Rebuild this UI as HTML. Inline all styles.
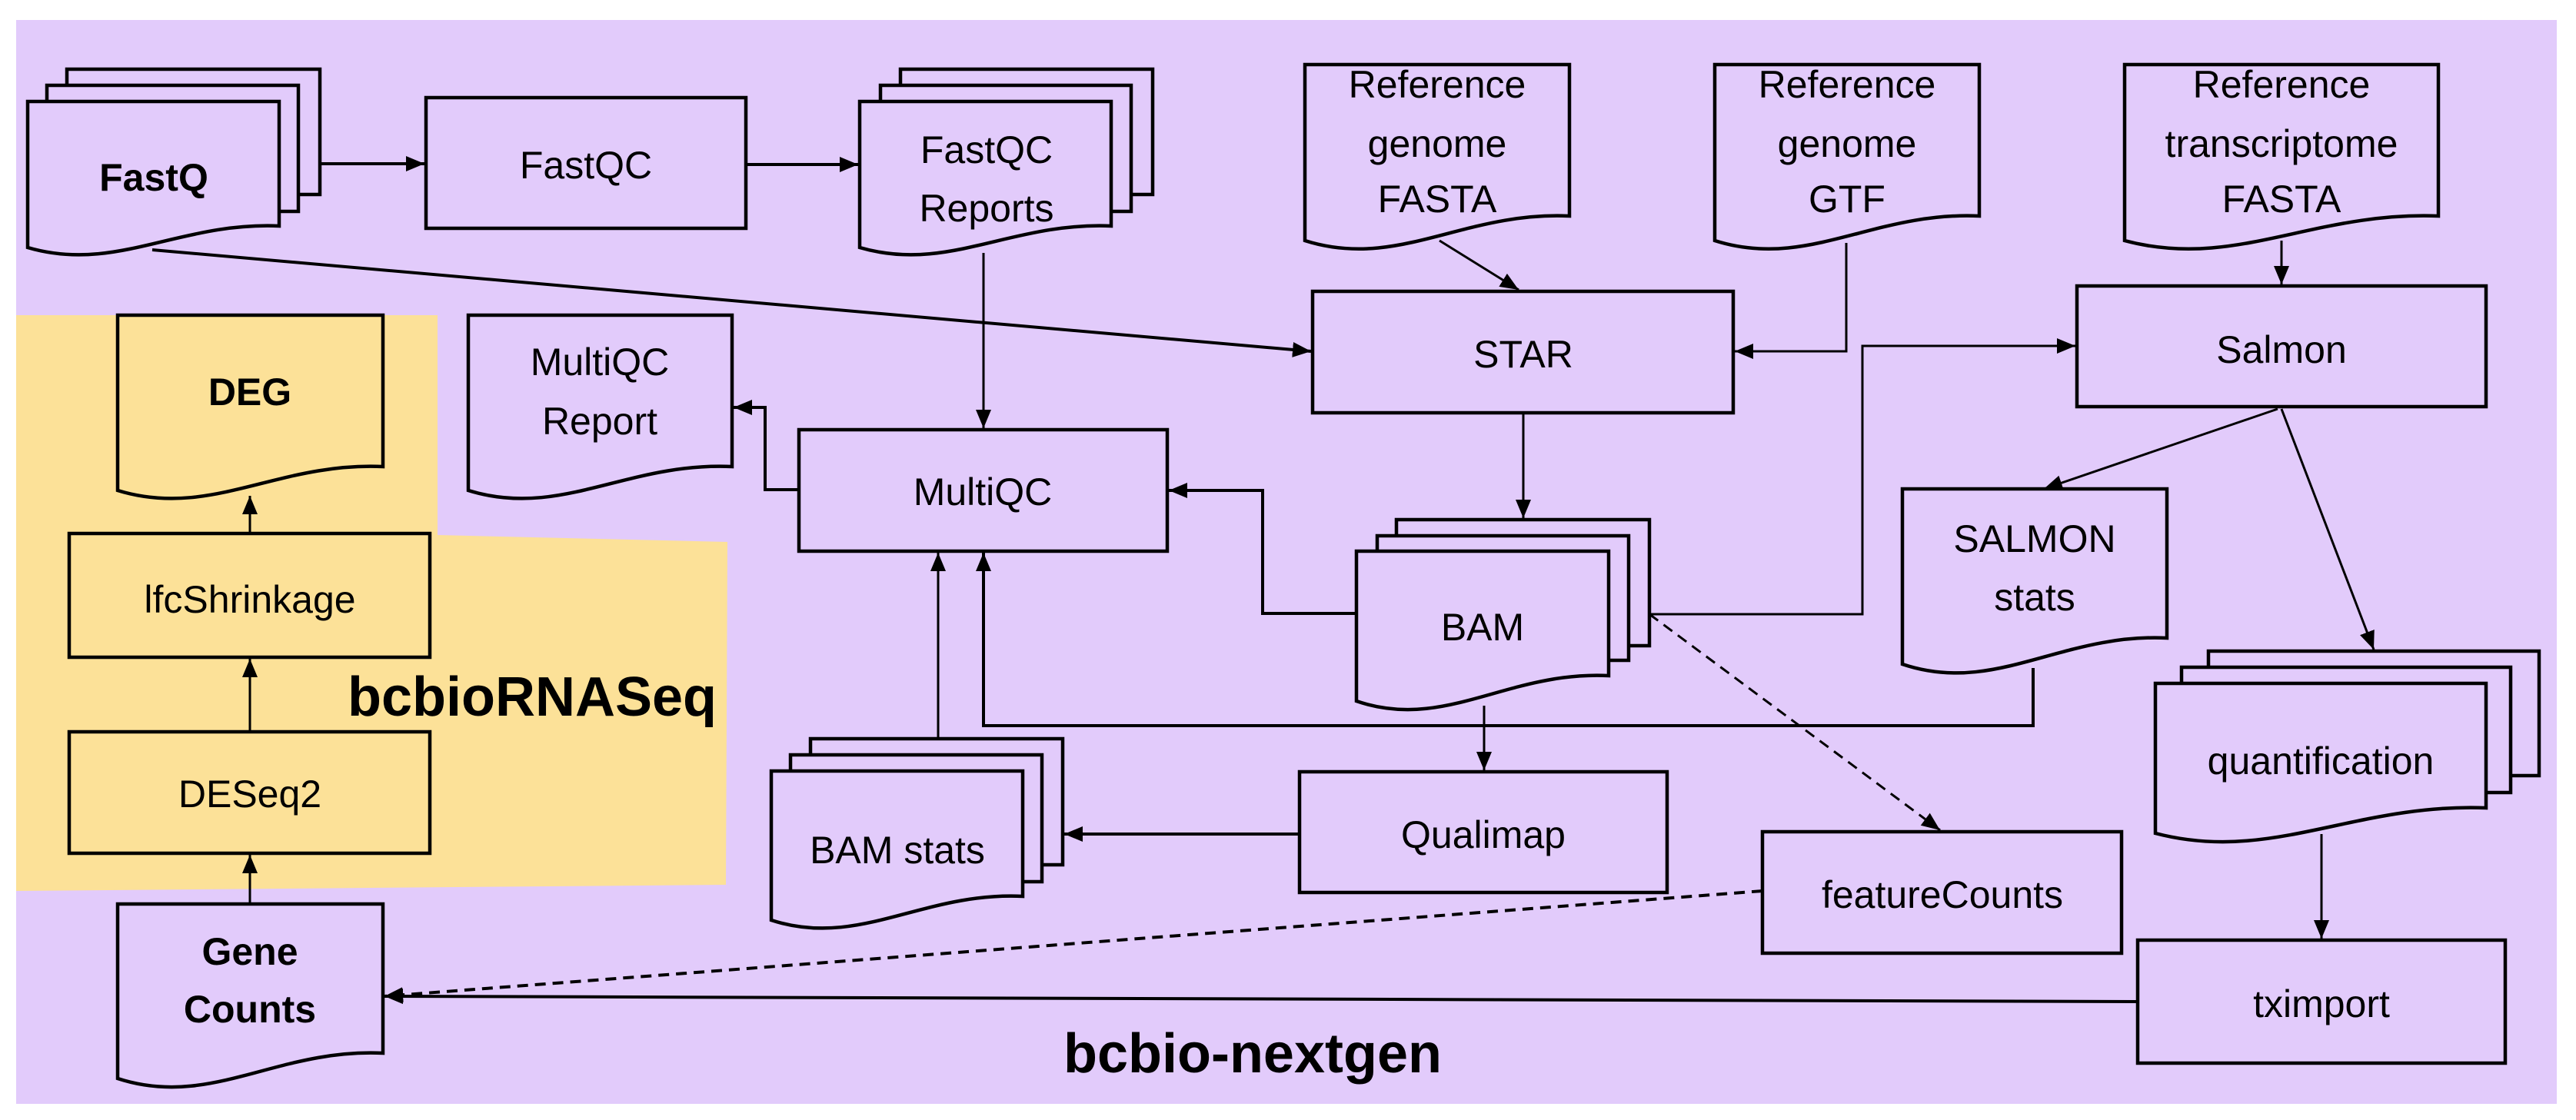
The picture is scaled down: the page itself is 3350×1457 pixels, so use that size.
<!DOCTYPE html>
<html><head><meta charset="utf-8"><style>
html,body{margin:0;padding:0;background:#fff;}
svg{display:block;}
text{font-family:"Liberation Sans",sans-serif;fill:#000;}
</style></head><body>
<svg width="3350" height="1457" viewBox="0 0 3350 1457" xmlns="http://www.w3.org/2000/svg">
<defs>
<marker id="a" markerUnits="userSpaceOnUse" markerWidth="30" markerHeight="24" refX="24" refY="12" orient="auto">
<path d="M0,2 L24,12 L0,22 Z" fill="#000"/>
</marker>
</defs>
<rect x="21" y="26" width="3304" height="1410" fill="#E2CBFB"/>
<polygon points="21,410 569,410 569,696 946,705 944,1151 21,1159" fill="#FCE198"/>

<g fill="none" stroke="#000" stroke-width="4">
<line x1="416" y1="213" x2="552" y2="213" marker-end="url(#a)"/>
<line x1="970" y1="214" x2="1116" y2="214" marker-end="url(#a)"/>
<line x1="1279" y1="329" x2="1279" y2="557" stroke-width="3" marker-end="url(#a)"/>
<line x1="198" y1="325" x2="1705" y2="457" marker-end="url(#a)"/>
<polyline points="1039,637 995,637 995,530 954,530" marker-end="url(#a)"/>
<line x1="325" y1="694" x2="325" y2="645" stroke-width="3" marker-end="url(#a)"/>
<line x1="325" y1="952" x2="325" y2="857" stroke-width="3" marker-end="url(#a)"/>
<line x1="325" y1="1176" x2="325" y2="1112" stroke-width="3" marker-end="url(#a)"/>
<line x1="1872" y1="313" x2="1975" y2="377" stroke-width="3" marker-end="url(#a)"/>
<polyline points="2401,316 2401,457 2256,457" stroke-width="3" marker-end="url(#a)"/>
<line x1="2967" y1="313" x2="2967" y2="370" stroke-width="3" marker-end="url(#a)"/>
<polyline points="2145,799 2422,799 2422,450 2699,450" stroke-width="3" marker-end="url(#a)"/>
<line x1="2962" y1="532" x2="2658" y2="636" stroke-width="3" marker-end="url(#a)"/>
<line x1="2967" y1="532" x2="3087" y2="845" stroke-width="3" marker-end="url(#a)"/>
<polyline points="2644,869 2644,944 1279,944 1279,719" marker-end="url(#a)"/>
<line x1="1220" y1="961" x2="1220" y2="719" stroke-width="3" marker-end="url(#a)"/>
<polyline points="1764,798 1642,798 1642,638 1520,638" marker-end="url(#a)"/>
<line x1="1981" y1="537" x2="1981" y2="674" stroke-width="3" marker-end="url(#a)"/>
<line x1="1930" y1="918" x2="1930" y2="1002" stroke-width="3" marker-end="url(#a)"/>
<line x1="1690" y1="1085" x2="1384" y2="1085" marker-end="url(#a)"/>
<line x1="2145" y1="799" x2="2523" y2="1080" stroke-width="3" stroke-dasharray="14,9" marker-end="url(#a)"/>
<line x1="2292" y1="1159" x2="500" y2="1296" stroke-width="4" stroke-dasharray="14,9" marker-end="url(#a)"/>
<line x1="2780" y1="1303" x2="500" y2="1296" marker-end="url(#a)"/>
<line x1="3019" y1="1085" x2="3019" y2="1221" stroke-width="3" marker-end="url(#a)"/>
</g>

<g stroke="#000" stroke-width="4.5" fill="#E2CBFB">
<rect x="87" y="90" width="329" height="163"/>
<rect x="61" y="111" width="327" height="164"/>
<path d="M36,132 H363 V294 C232.2,288.4 150.5,355.6 36,322 Z"/>
<rect x="554" y="127" width="416" height="170"/>
<rect x="1171" y="90" width="328" height="163"/>
<rect x="1145" y="111" width="326" height="164"/>
<path d="M1118,132 H1445 V294 C1314.2,288.4 1232.5,355.6 1118,322 Z"/>
<path d="M609,410 H952 V607 C814.8,600.8 729,675.2 609,638 Z"/>
<rect x="1039" y="559" width="479" height="158"/>
<path d="M1697,84 H2041 V281 C1903.4,274.6 1817.4,351.4 1697,313 Z"/>
<path d="M2230,84 H2574 V281 C2436.4,274.6 2350.4,351.4 2230,313 Z"/>
<path d="M2763,84 H3171 V281 C3007.8,274.6 2905.8,351.4 2763,313 Z"/>
<rect x="1707" y="379" width="547" height="158"/>
<rect x="2701" y="372" width="532" height="157"/>
<path d="M2474,636 H2818 V830 C2680.4,823.2 2594.4,904.8 2474,864 Z"/>
<rect x="1816" y="676" width="329" height="164"/>
<rect x="1791" y="697" width="327" height="162"/>
<path d="M1764,717 H2092 V879 C1960.8,872.4 1878.8,951.6 1764,912 Z"/>
<rect x="1690" y="1004" width="478" height="157"/>
<rect x="1054" y="961" width="328" height="164"/>
<rect x="1028" y="982" width="327" height="165"/>
<path d="M1003,1003 H1330 V1166 C1199.2,1159.8 1117.5,1234.2 1003,1197 Z"/>
<rect x="2292" y="1082" width="467" height="158"/>
<rect x="2872" y="847" width="430" height="162"/>
<rect x="2837" y="868" width="428" height="163"/>
<path d="M2803,889 H3233 V1051 C3061,1044.4 2953.5,1123.6 2803,1084 Z"/>
<rect x="2780" y="1223" width="478" height="160"/>
<path d="M153,1176 H498 V1370 C360,1363.4 273.75,1442.6 153,1403 Z"/>
</g>
<g stroke="#000" stroke-width="4.5" fill="#FCE198">
<path d="M153,410 H498 V607 C360,600.8 273.75,675.2 153,638 Z"/>
<rect x="90" y="694" width="469" height="161"/>
<rect x="90" y="952" width="469" height="158"/>
</g>

<g font-size="50" text-anchor="middle">
<text x="200" y="248" font-weight="bold">FastQ</text>
<text x="762" y="232">FastQC</text>
<text x="1283" y="212">FastQC</text>
<text x="1283" y="288">Reports</text>
<text x="780" y="488">MultiQC</text>
<text x="780" y="565">Report</text>
<text x="325" y="527" font-weight="bold">DEG</text>
<text x="325" y="797">lfcShrinkage</text>
<text x="325" y="1050">DESeq2</text>
<text x="325" y="1255" font-weight="bold">Gene</text>
<text x="325" y="1330" font-weight="bold">Counts</text>
<text x="1278" y="657">MultiQC</text>
<text x="1869" y="127">Reference</text>
<text x="1869" y="204">genome</text>
<text x="1869" y="276">FASTA</text>
<text x="2402" y="127">Reference</text>
<text x="2402" y="204">genome</text>
<text x="2402" y="276">GTF</text>
<text x="2967" y="127">Reference</text>
<text x="2967" y="204">transcriptome</text>
<text x="2967" y="276">FASTA</text>
<text x="1981" y="478">STAR</text>
<text x="2967" y="472">Salmon</text>
<text x="2646" y="718">SALMON</text>
<text x="2646" y="794">stats</text>
<text x="1928" y="833">BAM</text>
<text x="1929" y="1103">Qualimap</text>
<text x="1167" y="1123">BAM stats</text>
<text x="2526" y="1181">featureCounts</text>
<text x="3018" y="1007">quantification</text>
<text x="3019" y="1323">tximport</text>
</g>
<text x="692" y="931" font-size="72" font-weight="bold" text-anchor="middle">bcbioRNASeq</text>
<text x="1629" y="1395" font-size="72" font-weight="bold" text-anchor="middle">bcbio-nextgen</text>
</svg>
</body></html>
